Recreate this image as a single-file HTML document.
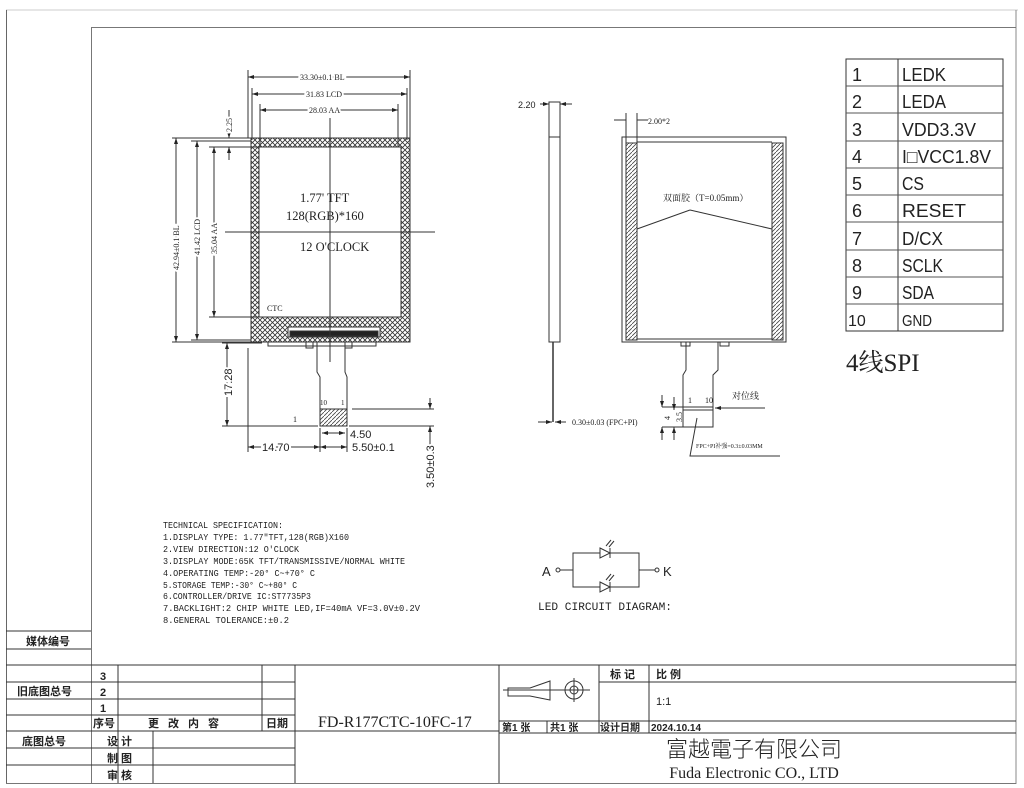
<!DOCTYPE html>
<html><head><meta charset="utf-8"><style>
html,body{margin:0;padding:0;background:#fff;}
svg{display:block;}
text{font-family:"Liberation Serif","Noto Serif CJK SC",serif;fill:#222;}
.s text,text.s{font-family:"Liberation Sans","Noto Sans CJK SC",sans-serif;}
.cj text{font-family:"Liberation Sans","Noto Sans CJK SC",sans-serif;font-weight:bold;}
.m text{font-family:"Liberation Mono","Noto Sans CJK SC",monospace;}
.w{paint-order:stroke;stroke:#fff;stroke-width:4px;}
</style></head><body>
<svg width="1024" height="788" viewBox="0 0 1024 788" xmlns="http://www.w3.org/2000/svg">
<defs>
<pattern id="xh" width="5" height="5" patternUnits="userSpaceOnUse">
<path d="M0,0L5,5M5,0L0,5" stroke="#333" stroke-width="0.8"/></pattern>
<pattern id="dh" width="4" height="4" patternUnits="userSpaceOnUse">
<path d="M0,4L4,0" stroke="#444" stroke-width="0.8"/></pattern>
<marker id="ar" markerWidth="6" markerHeight="4" refX="6" refY="2" orient="auto-start-reverse" markerUnits="userSpaceOnUse"><path d="M0,0L6,2L0,4z" fill="#222"/></marker>
</defs>
<g fill="none" stroke="#333" stroke-width="1">
<line x1="6" y1="10" x2="1018" y2="10" stroke="#ccc"/>
<line x1="6.5" y1="10" x2="6.5" y2="784" stroke="#666"/>
<line x1="1016" y1="10" x2="1016" y2="784" stroke="#888"/>
<line x1="91.5" y1="27.5" x2="1016" y2="27.5" stroke="#777"/>
<line x1="91.5" y1="27" x2="91.5" y2="784" stroke="#777"/>
<line x1="6" y1="783.5" x2="1016" y2="783.5" stroke="#777"/>

<path d="M6,631H91M6,649H91M6,665H1016M6,682H295M6,699H295M6,715H295M6,731H499M6,748H295M6,765H295"/>
<path d="M118,665V731M262,665V731M295,665V783M153,731V783M499,665V783M118,731V783"/>
<path d="M499,721H1016M499,733H1016M599,665V733M649,665V733M547,721V733M599,682H1016"/>

<rect x="251" y="138" width="159" height="204" fill="url(#xh)"/>
<rect x="259" y="147" width="142" height="170" fill="#fff"/>
<rect x="251" y="138" width="159" height="204"/>
<rect x="259" y="147" width="142" height="170"/>
<rect x="288" y="327" width="92" height="10" fill="#fff"/>
<rect x="290" y="331" width="88" height="5" fill="#222"/>
<path d="M268,342V346H376V342M306,342V348H313V342M345,342V348H352V342"/>
<line x1="330" y1="118" x2="330" y2="362"/>
<line x1="225" y1="232" x2="435" y2="232"/>
<path d="M248,70V138M410,70V138M252,88V140M407,88V140M260,104V147M398,104V147"/>
<line x1="248" y1="77" x2="410" y2="77" marker-start="url(#ar)" marker-end="url(#ar)"/>
<line x1="252" y1="94" x2="407" y2="94" marker-start="url(#ar)" marker-end="url(#ar)"/>
<line x1="260" y1="110" x2="398" y2="110" marker-start="url(#ar)" marker-end="url(#ar)"/>
<path d="M172,138H251M191,141H251M209,147H259M209,317H259M191,340H251M172,342H251"/>
<line x1="176" y1="138" x2="176" y2="342" marker-start="url(#ar)" marker-end="url(#ar)"/>
<line x1="197" y1="141" x2="197" y2="340" marker-start="url(#ar)" marker-end="url(#ar)"/>
<line x1="214" y1="147" x2="214" y2="317" marker-start="url(#ar)" marker-end="url(#ar)"/>
<line x1="229" y1="110" x2="229" y2="138" marker-end="url(#ar)"/>
<line x1="229" y1="160" x2="229" y2="147" marker-end="url(#ar)"/>
<path d="M317,342V372L320,377V426M345,342V372L347,377V426M320,426H347"/>
<rect x="320" y="409" width="27" height="17" fill="url(#dh)"/>
<path d="M222,426H318M349,426H434M352,409H434M248,348V452M320,428V452M347,428V452M222,343H262"/>
<line x1="227" y1="343" x2="227" y2="426" marker-start="url(#ar)" marker-end="url(#ar)"/>
<line x1="248" y1="447" x2="320" y2="447" marker-start="url(#ar)" marker-end="url(#ar)"/>
<line x1="320" y1="447" x2="347" y2="447" marker-start="url(#ar)" marker-end="url(#ar)"/>
<line x1="322" y1="433" x2="345" y2="433" marker-start="url(#ar)" marker-end="url(#ar)"/>
<line x1="430" y1="398" x2="430" y2="409" marker-end="url(#ar)"/>
<line x1="430" y1="445" x2="430" y2="426" marker-end="url(#ar)"/>

<rect x="549" y="102" width="11" height="240"/>
<line x1="549" y1="137" x2="560" y2="137"/>
<line x1="553" y1="342" x2="553" y2="422" stroke-width="1.5"/>
<line x1="540" y1="104" x2="549" y2="104" marker-end="url(#ar)"/>
<line x1="572" y1="104" x2="560" y2="104" marker-end="url(#ar)"/>
<line x1="538" y1="422" x2="552" y2="422" marker-end="url(#ar)"/>
<line x1="566" y1="422" x2="555" y2="422" marker-end="url(#ar)"/>

<rect x="622" y="137" width="164" height="205"/>
<rect x="626" y="143" width="11" height="197" fill="url(#dh)"/>
<rect x="772" y="143" width="11" height="197" fill="url(#dh)"/>
<path d="M637,142H772M637,339H772"/>
<path d="M626,113V143M637,113V143M614,120H626M648,120H637"/>
<path d="M690,210L637,229M690,210L772,229"/>
<path d="M681,342V346H690V342M720,342V346H729V342"/>
<path d="M686,342V370L683,375V427H713V375L718,370V342"/>
<path d="M683,407H713M683,410H713"/>
<line x1="765" y1="408" x2="715" y2="408" marker-end="url(#ar)"/>
<path d="M662,407H683M662,427H683"/>
<line x1="662" y1="395" x2="662" y2="407" marker-end="url(#ar)"/>
<line x1="662" y1="440" x2="662" y2="427" marker-end="url(#ar)"/>
<line x1="674" y1="397" x2="674" y2="410" marker-end="url(#ar)"/>
<line x1="674" y1="440" x2="674" y2="427" marker-end="url(#ar)"/>
<path d="M697,418L690,456H780"/>

<rect x="846" y="59" width="157" height="272"/>
<line x1="898" y1="59" x2="898" y2="331"/>
<path d="M846,86H1003M846,113H1003M846,141H1003M846,168H1003M846,195H1003M846,222H1003M846,250H1003M846,277H1003M846,304H1003" stroke="#555"/>

<rect x="573" y="553" width="66" height="34"/>
<path d="M560,570H573M639,570H655"/>
<circle cx="558" cy="570" r="2"/><circle cx="657" cy="570" r="2"/>
<path d="M600,548L610,553L600,558ZM610,548V558" fill="#fff"/>
<path d="M600,582L610,587L600,592ZM610,582V592" fill="#fff"/>
<path d="M606,546L611,540M609,547L614,541M606,580L611,574M609,581L614,575"/>

<path d="M508,688H530L550,681V700L530,696H508Z M503,690H556M548,690H590"/>
<circle cx="574" cy="690" r="9"/><circle cx="574" cy="690" r="4"/>
<line x1="574" y1="678" x2="574" y2="702"/>
</g>

<g font-size="8">
<text class="w" x="300" y="80">33.30±0.1 BL</text>
<text class="w" x="306" y="97">31.83 LCD</text>
<text class="w" x="309" y="113">28.03 AA</text>
<text class="w" transform="translate(179,270) rotate(-90)">42.94±0.1 BL</text>
<text class="w" transform="translate(200,255) rotate(-90)">41.42 LCD</text>
<text class="w" transform="translate(217,254) rotate(-90)">35.04 AA</text>
<text class="w" transform="translate(232,132) rotate(-90)">2.25</text>
<text x="267" y="311">CTC</text>
<text x="320" y="405" font-size="7">10</text><text x="341" y="405" font-size="7">1</text>
<text x="293" y="422" fill="#c63">1</text>
<text x="572" y="425">0.30±0.03 (FPC+PI)</text>
<text x="648" y="124">2.00*2</text>
<text x="688" y="403">1</text><text x="705" y="403">10</text>
<text transform="translate(670,420) rotate(-90)">4</text>
<text transform="translate(682,422) rotate(-90)">3.5</text>
<text x="696" y="448" font-size="6">FPC+PI补强=0.3±0.03MM</text>
</g>
<g class="s" font-size="11">
<text x="518" y="108" font-size="9">2.20</text>
<text class="w" transform="translate(232,396) rotate(-90)">17.28</text>
<text class="w" x="262" y="451">14.70</text>
<text x="350" y="438">4.50</text>
<text x="352" y="451">5.50±0.1</text>
<text class="w" transform="translate(434,488) rotate(-90)">3.50±0.3</text>
</g>
<g font-size="12.5">
<text x="300" y="202">1.77' TFT</text>
<text x="286" y="220">128(RGB)*160</text>
<text x="300" y="251">12 O'CLOCK</text>
</g>
<text x="663" y="201" font-size="9">双面胶（T=0.05mm）</text>
<text x="732" y="399" font-size="9">对位线</text>

<g class="s" font-size="18" style="font-weight:300">
<text x="852" y="81" fill="#555">1</text><text x="902" y="81" fill="#555" textLength="44" lengthAdjust="spacingAndGlyphs">LEDK</text>
<text x="852" y="108" fill="#555">2</text><text x="902" y="108" fill="#555" textLength="44" lengthAdjust="spacingAndGlyphs">LEDA</text>
<text x="852" y="136" fill="#555">3</text><text x="902" y="136" fill="#555" textLength="74" lengthAdjust="spacingAndGlyphs">VDD3.3V</text>
<text x="852" y="163" fill="#555">4</text><text x="902" y="163" fill="#555" textLength="89" lengthAdjust="spacingAndGlyphs">I□VCC1.8V</text>
<text x="852" y="190" fill="#555">5</text><text x="902" y="190" fill="#555" textLength="22" lengthAdjust="spacingAndGlyphs">CS</text>
<text x="852" y="217" fill="#555">6</text><text x="902" y="217" fill="#555" textLength="64" lengthAdjust="spacingAndGlyphs">RESET</text>
<text x="852" y="245" fill="#555">7</text><text x="902" y="245" fill="#555" textLength="41" lengthAdjust="spacingAndGlyphs">D/CX</text>
<text x="852" y="272" fill="#555">8</text><text x="902" y="272" fill="#555" textLength="41" lengthAdjust="spacingAndGlyphs">SCLK</text>
<text x="852" y="299" fill="#555">9</text><text x="902" y="299" fill="#555" textLength="32" lengthAdjust="spacingAndGlyphs">SDA</text>
<text x="848" y="326" fill="#555" font-size="16">10</text><text x="902" y="326" fill="#555" font-size="16" textLength="30" lengthAdjust="spacingAndGlyphs">GND</text>
</g>
<text x="846" y="371" font-size="25">4线SPI</text>

<g class="m" font-size="9">
<text x="163" y="528" textLength="120" lengthAdjust="spacingAndGlyphs">TECHNICAL SPECIFICATION:</text>
<text x="163" y="540" textLength="186" lengthAdjust="spacingAndGlyphs">1.DISPLAY TYPE: 1.77"TFT,128(RGB)X160</text>
<text x="163" y="552" textLength="136" lengthAdjust="spacingAndGlyphs">2.VIEW DIRECTION:12 O'CLOCK</text>
<text x="163" y="564" textLength="242" lengthAdjust="spacingAndGlyphs">3.DISPLAY MODE:65K TFT/TRANSMISSIVE/NORMAL WHITE</text>
<text x="163" y="576" textLength="152" lengthAdjust="spacingAndGlyphs">4.OPERATING TEMP:-20° C~+70° C</text>
<text x="163" y="588" textLength="134" lengthAdjust="spacingAndGlyphs">5.STORAGE TEMP:-30° C~+80° C</text>
<text x="163" y="599" textLength="148" lengthAdjust="spacingAndGlyphs">6.CONTROLLER/DRIVE IC:ST7735P3</text>
<text x="163" y="611" textLength="257" lengthAdjust="spacingAndGlyphs">7.BACKLIGHT:2 CHIP WHITE LED,IF=40mA  VF=3.0V±0.2V</text>
<text x="163" y="623" textLength="126" lengthAdjust="spacingAndGlyphs">8.GENERAL TOLERANCE:±0.2</text>
<text x="538" y="610" font-size="11" textLength="134" lengthAdjust="spacingAndGlyphs">LED CIRCUIT DIAGRAM:</text>
</g>
<text class="s" x="542" y="576" font-size="13">A</text>
<text class="s" x="663" y="576" font-size="13">K</text>

<g class="cj" font-size="11">
<text x="26" y="645">媒体编号</text>
<text x="17" y="695">旧底图总号</text>
<text x="22" y="745">底图总号</text>
<text x="100" y="680">3</text><text x="100" y="696">2</text><text x="100" y="712">1</text>
<text x="93" y="727">序号</text>
<text x="148" y="727" letter-spacing="9">更改内容</text>
<text x="266" y="727">日期</text>
<text x="107" y="745" letter-spacing="3">设计</text>
<text x="107" y="762" letter-spacing="3">制图</text>
<text x="107" y="779" letter-spacing="3">审核</text>
<text x="610" y="678" letter-spacing="3">标记</text>
<text x="656" y="678" letter-spacing="3">比例</text>
<text x="502" y="731" font-size="10">第1 张</text>
<text x="550" y="731" font-size="10">共1 张</text>
<text x="600" y="731" font-size="10">设计日期</text>
<text x="651" y="731" font-size="10">2024.10.14</text>
</g>
<text x="318" y="727" font-size="16">FD-R177CTC-10FC-17</text>
<text class="s" x="656" y="705" font-size="11" fill="#555">1:1</text>
<text x="754" y="757" font-size="22" text-anchor="middle" style="font-family:'Noto Sans CJK SC',sans-serif;font-weight:300">富越電子有限公司</text>
<text x="754" y="778" font-size="16" text-anchor="middle">Fuda Electronic CO., LTD</text>
</svg>
</body></html>
